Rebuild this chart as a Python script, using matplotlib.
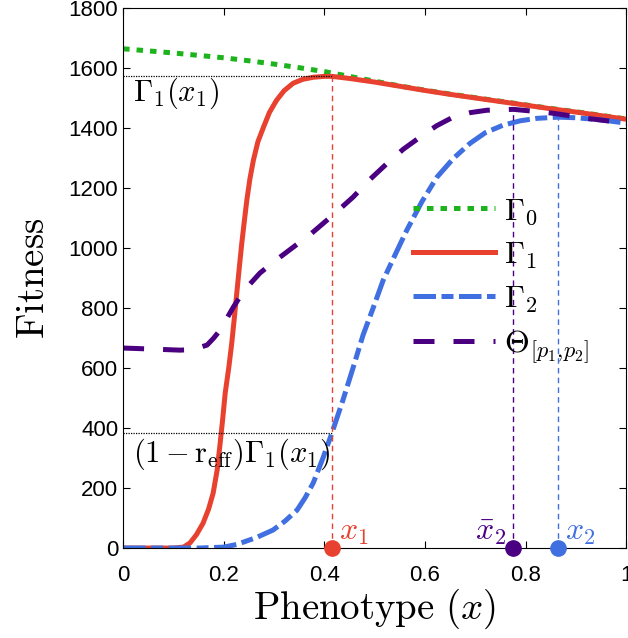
import numpy as np
import matplotlib
matplotlib.use("Agg")
import matplotlib.pyplot as plt

plt.rcParams['mathtext.fontset'] = 'cm'
plt.rcParams['font.family'] = ['Liberation Sans', 'DejaVu Sans']

# curves
x_g0 = [0, 0.05, 0.1, 0.15, 0.2, 0.25, 0.3, 0.35, 0.4, 0.45, 0.5, 0.55, 0.6,
        0.65, 0.7, 0.75, 0.8, 0.85, 0.9, 0.95, 1.0]
gamma0 = [1665, 1658, 1651, 1643, 1635, 1625, 1614, 1602, 1589, 1573, 1557, 1541, 1527,
          1514, 1502, 1490, 1478, 1466, 1455, 1443, 1431]

x_g1 = [0, 0.10, 0.12, 0.133, 0.146, 0.159, 0.17, 0.179, 0.187, 0.193, 0.198, 0.203,
        0.21, 0.216, 0.221, 0.226, 0.231, 0.236, 0.241, 0.246, 0.252, 0.259, 0.268,
        0.279, 0.291, 0.305, 0.32, 0.338, 0.357, 0.378, 0.40, 0.415, 0.45, 0.5,
        0.55, 0.6, 0.65, 0.7, 0.75, 0.8, 0.85, 0.9, 0.95, 1.0]
gamma1 = [0, 0, 3, 17, 45, 83, 130, 183, 260, 350, 430, 517,
          600, 683, 765, 850, 935, 1017, 1090, 1160, 1230, 1293, 1355,
          1403, 1453, 1493, 1525, 1550, 1563, 1570, 1573, 1573, 1566, 1554,
          1540, 1526, 1513, 1501, 1489, 1477, 1465, 1454, 1442, 1430]

x_g2 = [0, 0.15, 0.2, 0.226, 0.265, 0.298, 0.322, 0.346, 0.362, 0.378, 0.398, 0.415,
        0.437, 0.457, 0.477, 0.497, 0.517, 0.545, 0.564, 0.594, 0.624, 0.657, 0.69,
        0.72, 0.755, 0.79, 0.823, 0.865, 0.9, 0.95, 1.0]
gamma2 = [0, 0, 3, 12, 35, 60, 90, 127, 168, 217, 303, 383,
          493, 600, 710, 800, 893, 993, 1060, 1155, 1237, 1300, 1350,
          1385, 1410, 1425, 1433, 1437, 1435, 1428, 1417]

x_th = [0, 0.05, 0.113, 0.14, 0.167, 0.18, 0.193, 0.206, 0.219, 0.235, 0.252, 0.272,
        0.3, 0.338, 0.375, 0.412, 0.435, 0.457, 0.49, 0.525, 0.557, 0.59, 0.623,
        0.656, 0.69, 0.723, 0.776, 0.82, 0.855, 0.922, 1.0]
theta = [667, 664, 660, 662, 677, 700, 727, 765, 803, 845, 880, 917,
         955, 1003, 1050, 1103, 1137, 1170, 1228, 1283, 1330, 1370, 1408,
         1437, 1452, 1460, 1463, 1456, 1450, 1433, 1417]

x1 = 0.415
x2bar = 0.775
x2 = 0.865
g1_x1 = 1573
reduced = 383
theta_max = 1463
g2_max = 1437

red = '#e8412f'
blue = '#3f6fe0'
green = '#1db31d'
purple = '#4b0082'

fig = plt.figure(figsize=(6.28, 6.38), dpi=100)
ax = fig.add_axes([0.196, 0.141, 0.801, 0.846])

lw = 3.6
l0, = ax.plot(x_g0, gamma0, color=green, lw=lw, linestyle=(0, (1.3, 1.4)))
l1, = ax.plot(x_g1, gamma1, color=red, lw=lw, solid_joinstyle='round')
l2, = ax.plot(x_g2, gamma2, color=blue, lw=lw, linestyle=(0, (4.5, 1.1, 2.4, 1.1)))
l3, = ax.plot(x_th, theta, color=purple, lw=lw, linestyle=(0, (4.2, 3.8)))

# guide lines
ax.plot([0, x1], [g1_x1, g1_x1], color='k', lw=0.9, linestyle=(0, (1, 1)))
ax.plot([0, x1], [reduced, reduced], color='k', lw=0.9, linestyle=(0, (1, 1)))
ax.plot([x1, x1], [0, g1_x1], color=red, lw=1, linestyle=(0, (4, 3)))
ax.plot([x2bar, x2bar], [0, theta_max], color=purple, lw=1, linestyle=(0, (4, 3)))
ax.plot([x2, x2], [0, g2_max], color=blue, lw=1, linestyle=(0, (4, 3)))

ax.plot([x1], [0], 'o', color=red, ms=11, clip_on=False, zorder=5)
ax.plot([x2bar], [0], 'o', color=purple, ms=11, clip_on=False, zorder=5)
ax.plot([x2], [0], 'o', color=blue, ms=11, clip_on=False, zorder=5)

ax.text(x1 + 0.015, 5, r'$x_1$', color=red, fontsize=23, va='bottom', ha='left')
ax.text(x2bar - 0.013, 5, r'$\bar{x}_2$', color=purple, fontsize=23, va='bottom', ha='right')
ax.text(x2 + 0.013, 5, r'$x_2$', color=blue, fontsize=23, va='bottom', ha='left')

ax.text(0.02, 1575, r'$\Gamma_1(x_1)$', fontsize=22, va='top', ha='left')
ax.text(0.02, 372, r'$(1-\mathrm{r_{eff}})\Gamma_1(x_1)$', fontsize=22, va='top', ha='left')

ax.legend([l0, l1, l2, l3],
          [r'$\Gamma_0$', r'$\Gamma_1$', r'$\Gamma_2$', r'$\Theta_{[p_1{,}p_2]}$'],
          loc='upper left', bbox_to_anchor=(0.5765, 0.651), frameon=False,
          fontsize=23, handlelength=2.55, handletextpad=0.3, labelspacing=0.42,
          borderaxespad=0, borderpad=0)

ax.set_xlim(0, 1)
ax.set_ylim(0, 1800)
ax.set_xticks([0, 0.2, 0.4, 0.6, 0.8, 1])
ax.set_xticklabels(['0', '0.2', '0.4', '0.6', '0.8', '1'])
ax.set_yticks(np.arange(0, 1801, 200))
ax.tick_params(direction='in', top=True, right=True, labelsize=16, length=5, width=0.8)
ax.tick_params(axis='x', pad=12)
for s in ax.spines.values():
    s.set_linewidth(0.8)

ax.set_xlabel(r'$\mathrm{Phenotype}\ (x)$', fontsize=28, labelpad=1)
ax.set_ylabel(r'$\mathrm{Fitness}$', fontsize=28, labelpad=12)

fig.savefig('out.png', dpi=100)
